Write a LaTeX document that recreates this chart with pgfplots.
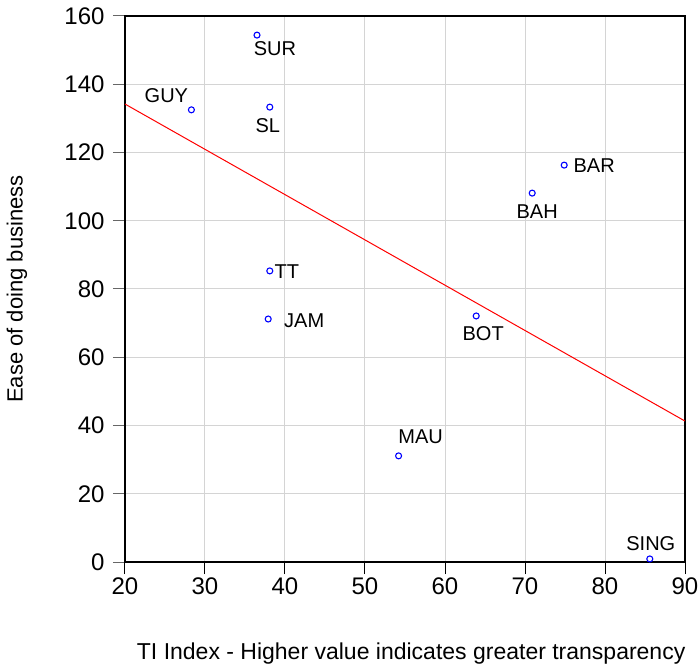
\documentclass[border=0pt]{standalone}
\usepackage{pgfplots}
\pgfplotsset{compat=1.18}
\usepackage{pgfplotstable}
\usepackage{fontspec}
\setmainfont{Liberation Sans}

% country, TI index, ease of doing business rank, label offset (pt)
\pgfplotstableread{
x     y     lab   dx   dy
36.5  154.4 SUR   18  -14
28.3  132.5 GUY  -25   14
38.1  133.3 SL    -2  -19
74.9  116.3 BAR   30   -1
70.9  108.1 BAH    5  -19
38.1   85.3 TT    17   -1
37.9   71.2 JAM   36   -2
63.9   72.1 BOT    7  -18
54.2   31.1 MAU   22   19
85.6    0.9 SING   1   15
}\pts

\begin{document}
\begin{tikzpicture}
\begin{axis}[
  scale only axis, width=560pt, height=546pt,
  xmin=20, xmax=90, ymin=0, ymax=160,
  xtick={20,30,...,90}, ytick={0,20,...,160},
  grid=major, major grid style={draw=black!17, line width=1pt},
  tick align=outside, tick pos=left, major tick length=12pt,
  major tick style={line width=1pt, black},
  ytick style={black!60},
  axis line style={line width=1.2pt},
  tick label style={font=\fontsize{24}{24}\selectfont},
  yticklabel style={xshift=-5pt},
  /pgf/number format/assume math mode=true,
  xlabel={TI Index - Higher value indicates greater transparency},
  ylabel={Ease of doing business},
  xlabel style={font=\fontsize{23}{23}\selectfont, at={(axis description cs:0.511,-0.167)}, anchor=center},
  ylabel style={font=\fontsize{22}{22}\selectfont, at={(axis description cs:-0.193,0.5)}, anchor=center},
  clip=false,
]
\addplot[red, line width=1pt] coordinates {(20,134.2) (90,41.3)};
\addplot[only marks, mark=o, mark size=3pt, blue, mark options={line width=1.1pt},
  nodes near coords, point meta=explicit symbolic,
  visualization depends on={\thisrow{dx} \as \dx},
  visualization depends on={\thisrow{dy} \as \dy},
  every node near coord/.append style={anchor=center, xshift=\dx pt, yshift=\dy pt,
    black, font=\fontsize{20}{20}\selectfont, inner sep=0pt}]
  table[x=x, y=y, meta=lab] {\pts};
\coordinate (bl) at (rel axis cs:0,0);
\coordinate (tr) at (rel axis cs:1,1);
\end{axis}
\pgfresetboundingbox
\path[use as bounding box] ([shift={(-125pt,-106pt)}]bl) rectangle ([shift={(15pt,16pt)}]tr);
\end{tikzpicture}
\end{document}
